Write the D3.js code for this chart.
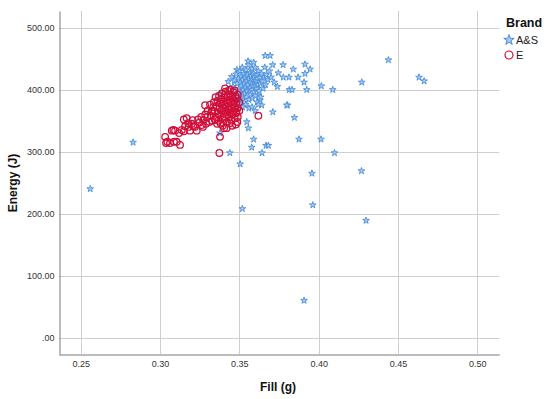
<!DOCTYPE html>
<html>
<head>
<meta charset="utf-8">
<script src="https://cdn.jsdelivr.net/npm/d3@7"></script>
<style>
  body { margin: 0; background: #fff; }
  svg { display: block; font-family: "Liberation Sans", Arial, sans-serif; }
</style>
</head>
<body>
<svg id="chart"></svg>
<script>
// tick values
let xTicks = [0.25, 0.30, 0.35, 0.40, 0.45, 0.50];
let yTicks = [0, 100, 200, 300, 400, 500];

// brand names
let brands = ['A&S', 'E'];

// A&S points: [fill (g), energy (J)]
let fillAS = [
  0.256, 0.283, 0.444, 0.4633, 0.4665, 0.4272, 0.4017, 0.4089, 0.3803, 0.3847,
  0.3876, 0.4015, 0.410, 0.3958, 0.427, 0.3963, 0.4299, 0.3908, 0.3519, 0.3505,
  0.3643, 0.359, 0.3578, 0.3668, 0.3683, 0.344, 0.3378,
  0.3776, 0.3914, 0.384, 0.3946, 0.3914, 0.3777, 0.3813, 0.387, 0.3908,
  0.3815, 0.3832, 0.3925, 0.3663, 0.3694, 0.3746, 0.374, 0.3711, 0.3799, 0.3641,
  0.363, 0.362, 0.3557, 0.3547, 0.3378, 0.3494, 0.343, 0.3452, 0.3484,
  0.3460, 0.3468, 0.3475, 0.3480, 0.3485, 0.3490, 0.3495, 0.3500, 0.3502, 0.3505,
  0.3508, 0.3510, 0.3512, 0.3515, 0.3518, 0.3520, 0.3522, 0.3525, 0.3528, 0.3530,
  0.3532, 0.3535, 0.3538, 0.3540, 0.3542, 0.3545, 0.3548, 0.3550, 0.3552, 0.3555,
  0.3558, 0.3560, 0.3562, 0.3565, 0.3568, 0.3570, 0.3572, 0.3575, 0.3578, 0.3580,
  0.3582, 0.3585, 0.3588, 0.3590, 0.3592, 0.3595, 0.3598, 0.3600, 0.3602, 0.3605,
  0.3608, 0.3610, 0.3612, 0.3615, 0.3618, 0.3620, 0.3625, 0.3628, 0.3632, 0.3635,
  0.3640, 0.3645, 0.3650, 0.3655, 0.3660, 0.3665, 0.3670, 0.3680, 0.3690, 0.3700,
  0.3710, 0.3720, 0.3540, 0.3560, 0.3580, 0.3600, 0.3520, 0.3500, 0.3620, 0.3555,
  0.3590
];
let energyAS = [
  240, 315, 448, 420, 414, 412, 406, 400, 375, 355,
  320, 320, 298, 265, 269, 214, 189, 60, 208, 280,
  298, 320, 307, 310, 310, 298, 330,
  440, 441, 433, 433, 426, 420, 420, 420, 412,
  400, 400, 400, 455, 455, 427, 405, 364, 375, 375,
  383, 391, 338, 348, 394, 381, 413, 421, 432,
  405, 415, 398, 425, 410, 390, 418, 402, 430, 385,
  412, 396, 422, 406, 436, 390, 416, 400, 426, 380,
  410, 394, 420, 404, 432, 388, 414, 398, 424, 408,
  440, 384, 418, 402, 428, 392, 412, 422, 400, 434,
  386, 416, 406, 426, 396, 420, 410, 436, 390, 414,
  402, 424, 380, 418, 408, 430, 398, 420, 410, 388,
  426, 414, 402, 420, 436, 408, 424, 416, 430, 420,
  440, 412, 376, 370, 372, 366, 372, 378, 376, 446,
  444
];

// E points
let fillE = [
  0.3032, 0.3038, 0.3046, 0.3063, 0.3074, 0.3084, 0.3088, 0.3095, 0.3105, 0.3126,
  0.3137, 0.3158, 0.3168, 0.3178, 0.3189, 0.3210, 0.3231, 0.3248, 0.3263, 0.3273,
  0.3298, 0.3311, 0.3284, 0.3315, 0.3378, 0.3374, 0.3404, 0.3441, 0.3487, 0.3479,
  0.3620, 0.3120, 0.3150, 0.3180, 0.3200, 0.3220, 0.3240, 0.3260, 0.3285, 0.3300,
  0.3150, 0.3205, 0.3270, 0.3320, 0.3330, 0.3290,
  0.3335, 0.3340, 0.3345, 0.3350, 0.3352, 0.3358, 0.3362, 0.3365, 0.3368, 0.3372,
  0.3375, 0.3378, 0.3380, 0.3383, 0.3385, 0.3388, 0.3390, 0.3392, 0.3395, 0.3398,
  0.3400, 0.3402, 0.3405, 0.3408, 0.3410, 0.3412, 0.3415, 0.3418, 0.3420, 0.3422,
  0.3425, 0.3428, 0.3430, 0.3432, 0.3435, 0.3438, 0.3440, 0.3442, 0.3445, 0.3448,
  0.3450, 0.3452, 0.3455, 0.3458, 0.3460, 0.3462, 0.3465, 0.3468, 0.3470, 0.3472,
  0.3475, 0.3478, 0.3480, 0.3482, 0.3485, 0.3488, 0.3490, 0.3455, 0.3420, 0.3395,
  0.3360, 0.3345, 0.3330, 0.3325, 0.3430, 0.3410, 0.3470, 0.3490, 0.3500, 0.3500,
  0.3440
];
let energyE = [
  324, 314, 316, 314, 334, 335, 316, 334, 316, 311,
  335, 341, 354, 346, 334, 341, 334, 347, 343, 351,
  356, 348, 375, 376, 324, 298, 338, 400, 348, 362,
  358, 330, 333, 340, 345, 340, 352, 356, 360, 366,
  352, 351, 340, 358, 365, 345,
  372, 380, 365, 388, 356, 374, 382, 362, 350, 390,
  370, 378, 358, 345, 385, 366, 394, 374, 352, 381,
  362, 370, 388, 356, 376, 397, 366, 383, 348, 372,
  360, 390, 378, 368, 355, 384, 372, 392, 362, 380,
  350, 370, 388, 360, 376, 396, 366, 382, 354, 372,
  390, 344, 378, 364, 386, 370, 356, 342, 338, 342,
  345, 352, 350, 366, 398, 402, 399, 392, 380, 366,
  346
];

let colorAS = '#4a8fdc';
let colorE = '#d0103a';

let width = 550, height = 399;
let plot = { left: 58.7, right: 499.3, top: 11, bottom: 354 };

let svg = d3.select('#chart').attr('width', width).attr('height', height);

let x = d3.scaleLinear().domain([0.2361, 0.5139]).range([plot.left, plot.right]);
let y = d3.scaleLinear().domain([-26.3, 527]).range([plot.bottom, plot.top]);

function translate(a, b) {
  return 'translate(' + a + ',' + b + ')';
}

// gridlines
let grid = svg.append('g').attr('class', 'grid');
grid.selectAll('line.gx')
  .data(xTicks)
  .enter().append('line')
  .attr('x1', d => Math.round(x(d)) + 0.5)
  .attr('x2', d => Math.round(x(d)) + 0.5)
  .attr('y1', plot.top)
  .attr('y2', plot.bottom)
  .attr('stroke', '#cfcfcf');
grid.selectAll('line.gy')
  .data(yTicks)
  .enter().append('line')
  .attr('x1', plot.left)
  .attr('x2', plot.right)
  .attr('y1', d => Math.round(y(d)) + 0.5)
  .attr('y2', d => Math.round(y(d)) + 0.5)
  .attr('stroke', '#cfcfcf');

// axes
let xAxis = d3.axisBottom(x).tickValues(xTicks).tickSize(0).tickPadding(6)
  .tickFormat(d3.format('.2f'));
let yAxis = d3.axisLeft(y).tickValues(yTicks).tickSize(0).tickPadding(5)
  .tickFormat(d => d === 0 ? '.00' : d3.format('.2f')(d));

let xGroup = svg.append('g').attr('transform', translate(0, Math.round(plot.bottom) + 0.5)).call(xAxis);
let yGroup = svg.append('g').attr('transform', translate(Math.round(plot.left) + 0.5, 0)).call(yAxis);

[xGroup, yGroup].forEach(g => {
  g.select('.domain').attr('stroke', '#7a7a7a');
  g.selectAll('text').attr('font-size', 9).attr('fill', '#333')
    .attr('font-family', '"Liberation Sans", Arial, sans-serif');
});

// points
let asData = fillAS.map((f, i) => ({ fill: f, energy: energyAS[i] }));
let eData = fillE.map((f, i) => ({ fill: f, energy: energyE[i] }));

let star = d3.symbol().type(d3.symbolStar).size(14);

svg.append('g').selectAll('path')
  .data(asData)
  .enter().append('path')
  .attr('d', star)
  .attr('transform', d => translate(x(d.fill), y(d.energy)))
  .attr('fill', '#a9cbf0')
  .attr('stroke', colorAS)
  .attr('stroke-width', 0.9);

svg.append('g').selectAll('circle')
  .data(eData)
  .enter().append('circle')
  .attr('cx', d => x(d.fill))
  .attr('cy', d => y(d.energy))
  .attr('r', 3.3)
  .attr('fill', 'none')
  .attr('stroke', colorE)
  .attr('stroke-width', 1.3);

// axis titles
svg.append('text')
  .attr('transform', translate(17, 183) + ' rotate(-90)')
  .attr('text-anchor', 'middle')
  .attr('font-size', 12)
  .attr('font-weight', 'bold')
  .attr('fill', '#111')
  .text('Energy (J)');

svg.append('text')
  .attr('x', 278)
  .attr('y', 391)
  .attr('text-anchor', 'middle')
  .attr('font-size', 12)
  .attr('font-weight', 'bold')
  .attr('fill', '#111')
  .text('Fill (g)');

// legend
let legend = svg.append('g').attr('transform', translate(505, 0));
legend.append('text')
  .attr('x', 1).attr('y', 27)
  .attr('font-size', 12.5)
  .attr('font-weight', 'bold')
  .attr('fill', '#111')
  .text('Brand');

legend.append('path')
  .attr('d', d3.symbol().type(d3.symbolStar).size(34)())
  .attr('transform', translate(4, 40))
  .attr('fill', '#a9cbf0')
  .attr('stroke', colorAS);
legend.append('circle')
  .attr('cx', 4).attr('cy', 55).attr('r', 4)
  .attr('fill', 'none')
  .attr('stroke', colorE)
  .attr('stroke-width', 1.2);

legend.selectAll('text.lab')
  .data(brands)
  .enter().append('text')
  .attr('class', 'lab')
  .attr('x', 11)
  .attr('y', (d, i) => 44 + i * 15)
  .attr('font-size', 11)
  .attr('fill', '#222')
  .text(d => d);
</script>
</body>
</html>
